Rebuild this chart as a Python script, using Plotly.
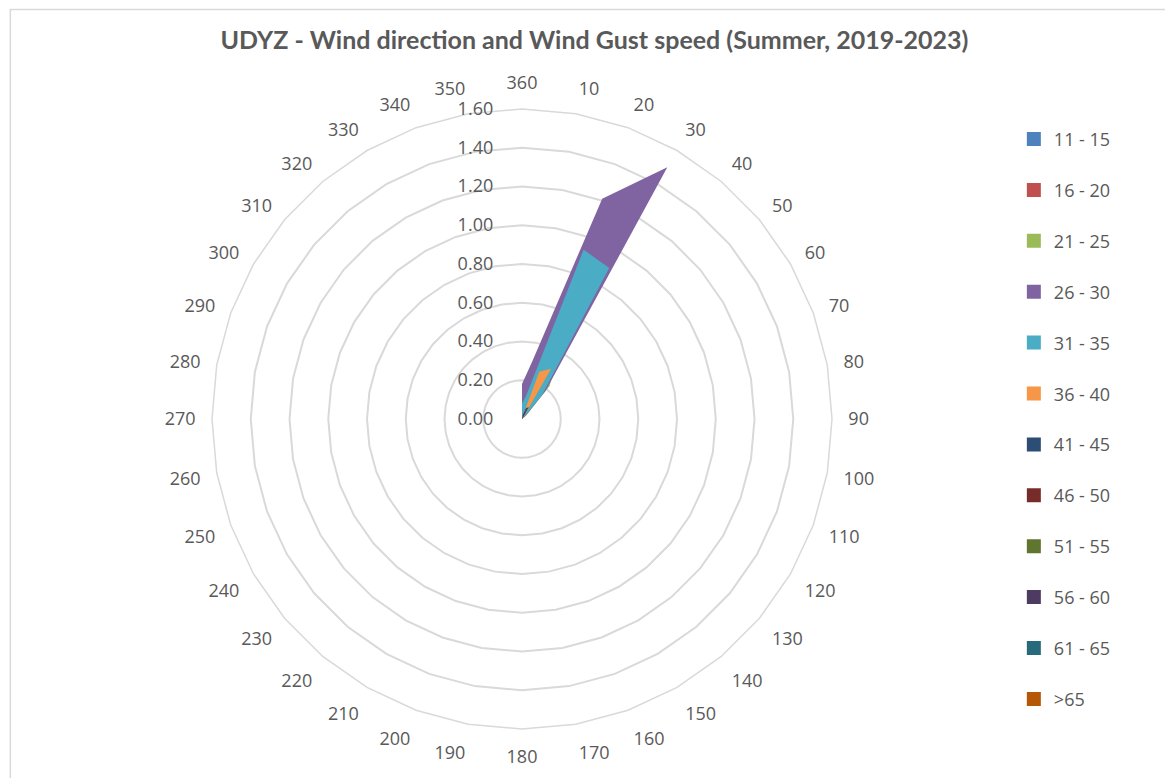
"""
UDYZ wind rose (summer 2019-2023) rebuilt as a filled Plotly radar chart.
"""
import plotly.graph_objects as go

# --- Data ---
directions = ["360"] + [str(d) for d in range(10, 360, 10)]

speed_bins = ["11 - 15", "16 - 20", "21 - 25", "26 - 30", "31 - 35", "36 - 40",
              "41 - 45", "46 - 50", "51 - 55", "56 - 60", "61 - 65", ">65"]


def sparse(values):
    """36 directions, zero everywhere except the given ones."""
    out = [0.0] * 36
    for deg, v in values.items():
        out[(deg // 10) % 36] = v
    return out


freq_11_15 = sparse({20: 0.01, 30: 0.01})
freq_16_20 = sparse({20: 0.01, 30: 0.01, 180: 0.01})
freq_21_25 = sparse({360: 0.02, 10: 0.10, 20: 0.30, 30: 0.38, 40: 0.22, 50: 0.03})
freq_26_30 = sparse({360: 0.18, 10: 0.30, 20: 1.21, 30: 1.50, 40: 0.19, 50: 0.02})
freq_31_35 = sparse({360: 0.08, 10: 0.12, 20: 0.93, 30: 0.90, 40: 0.16, 50: 0.01})
freq_36_40 = sparse({10: 0.01, 20: 0.26, 30: 0.30, 40: 0.01})
freq_41_45 = sparse({10: 0.02, 20: 0.06, 30: 0.07})
freq_46_50 = sparse({20: 0.03, 30: 0.04})
freq_51_55 = sparse({20: 0.01, 30: 0.02})
freq_56_60 = sparse({20: 0.01})
freq_61_65 = sparse({})
freq_over_65 = sparse({})

all_freqs = [freq_11_15, freq_16_20, freq_21_25, freq_26_30, freq_31_35, freq_36_40,
             freq_41_45, freq_46_50, freq_51_55, freq_56_60, freq_61_65, freq_over_65]

colors = ["#4F81BD", "#C0504D", "#9BBB59", "#8064A2", "#4BACC6", "#F79646",
          "#2C4D75", "#772C2A", "#5F7530", "#4D3B62", "#276A7C", "#B65708"]

radial_ticks = [0.0, 0.2, 0.4, 0.6, 0.8, 1.0, 1.2, 1.4, 1.6]

TEXT = "#595959"
GRID = "#D9D9D9"

fig = go.Figure()

for i, (name, vals, col) in enumerate(zip(speed_bins, all_freqs, colors)):
    fig.add_trace(go.Scatterpolar(
        r=vals + vals[:1],
        theta=directions + directions[:1],
        name=name,
        mode="none",
        fill="toself",
        fillcolor=col,
        showlegend=False,
        hovertemplate="%{theta}°: %{r:.2f}<extra>" + name + "</extra>",
    ))

# legend entries with square swatches like Excel
for i, (name, col) in enumerate(zip(speed_bins, colors)):
    fig.add_trace(go.Scatterpolar(
        r=[None], theta=[directions[0]],
        name=name,
        mode="markers",
        marker=dict(symbol="square", size=14, color=col),
        legendgroup=f"g{i}",
        showlegend=True,
        hoverinfo="skip",
    ))

fig.update_layout(
    width=1173,
    height=778,
    paper_bgcolor="white",
    plot_bgcolor="white",
    margin=dict(l=0, r=0, t=0, b=0),
    font=dict(family="Open Sans", size=18, color=TEXT),
    title=dict(
        text="<b>UDYZ - Wind direction and Wind Gust speed (Summer, 2019-2023)</b>",
        font=dict(family="Lato", size=25, color=TEXT),
        x=0.5, xanchor="center",
        y=0.958, yanchor="middle",
    ),
    polar=dict(
        domain=dict(x=[0.1739, 0.7025], y=[0.0733, 0.8702]),
        bgcolor="white",
        gridshape="linear",
        angularaxis=dict(
            direction="clockwise",
            rotation=90,
            type="category",
            categoryarray=directions,
            showgrid=False,
            showline=True,
            linecolor=GRID,
            linewidth=1.5,
            ticks="outside",
            ticklen=12,
            tickcolor="rgba(0,0,0,0)",
            tickfont=dict(size=18, color=TEXT),
        ),
        radialaxis=dict(
            range=[0, 1.6],
            tickvals=radial_ticks,
            tickformat=".2f",
            angle=90,
            tickangle=90,
            side="counterclockwise",
            showline=False,
            ticks="outside",
            ticklen=22,
            tickcolor="rgba(0,0,0,0)",
            gridcolor=GRID,
            gridwidth=1.5,
            tickfont=dict(size=18, color=TEXT),
        ),
    ),
    legend=dict(
        x=0.8575, xanchor="left",
        y=0.855, yanchor="top",
        font=dict(size=18, color=TEXT),
        tracegroupgap=24.5,
        itemwidth=30,
        bgcolor="rgba(0,0,0,0)",
    ),
    shapes=[dict(
        type="rect", xref="paper", yref="paper",
        x0=0.002, x1=0.998, y0=0.002, y1=0.998,
        line=dict(color=GRID, width=1.5),
    )],
)

fig.write_html("out.html")
